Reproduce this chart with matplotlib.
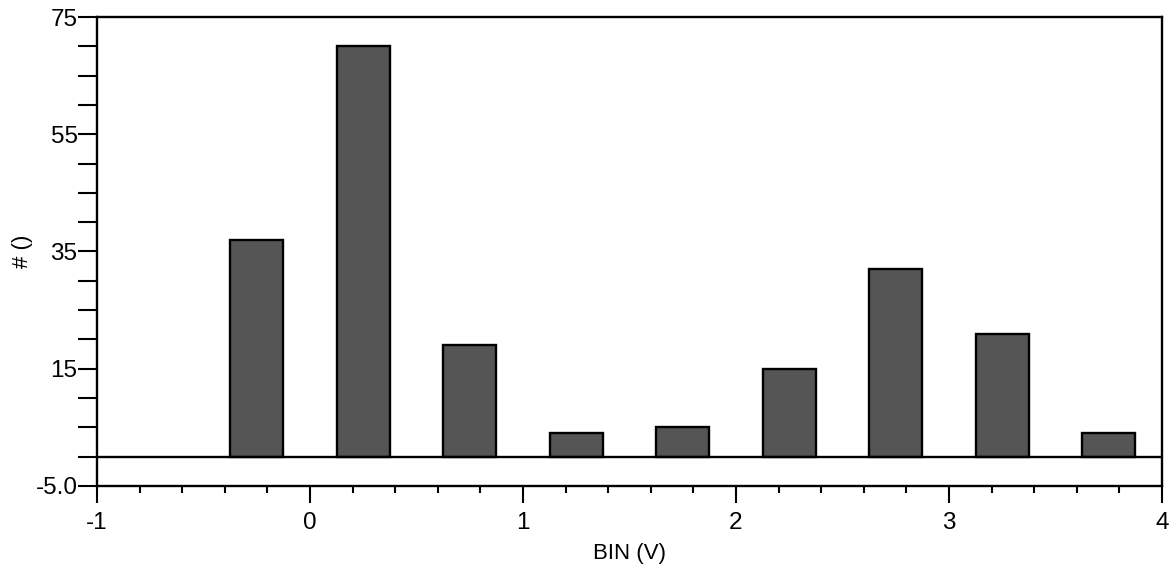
import matplotlib
matplotlib.use('Agg')
import matplotlib.pyplot as plt
from matplotlib.ticker import FixedLocator, FixedFormatter, MultipleLocator

plt.rcParams['font.family'] = ['Liberation Sans', 'DejaVu Sans']

# Histogramm-Daten (Bin-Mitte in V, Anzahl)
bin_mitten = [-0.25, 0.25, 0.75, 1.25, 1.75, 2.25, 2.75, 3.25, 3.75]
anzahl = [37, 70, 19, 4, 5, 15, 32, 21, 4]
bin_breite = 0.25

y_ticks = [-5, 15, 35, 55, 75]
y_labels = ['-5.0', '15', '35', '55', '75']
x_ticks = [-1, 0, 1, 2, 3, 4]
x_labels = ['-1', '0', '1', '2', '3', '4']

fig = plt.figure(figsize=(11.75, 5.74), dpi=100)
ax = fig.add_axes([97/1175, 1 - 486/574, (1162 - 97)/1175, (486 - 17)/574])

ax.bar(bin_mitten, anzahl, width=bin_breite, color='#555555',
       edgecolor='black', linewidth=1.7, zorder=2)
ax.axhline(0, color='black', linewidth=1.7, zorder=3)

ax.set_xlim(-1, 4)
ax.set_ylim(-5, 75)

ax.xaxis.set_major_locator(FixedLocator(x_ticks))
ax.xaxis.set_major_formatter(FixedFormatter(x_labels))
ax.xaxis.set_minor_locator(MultipleLocator(0.2))
ax.yaxis.set_major_locator(FixedLocator(y_ticks))
ax.yaxis.set_major_formatter(FixedFormatter(y_labels))
ax.yaxis.set_minor_locator(MultipleLocator(5))

for s in ax.spines.values():
    s.set_linewidth(1.7)

ax.tick_params(axis='x', which='major', direction='out', length=12, width=1.5,
               labelsize=17.5, pad=7)
ax.tick_params(axis='x', which='minor', direction='out', length=5, width=1.5)
ax.tick_params(axis='y', which='major', direction='out', length=14, width=1.5,
               labelsize=17.5, pad=0)
ax.tick_params(axis='y', which='minor', direction='out', length=14, width=1.5)

ax.set_xlabel('BIN (V)', fontsize=16, labelpad=6)
ax.set_ylabel('# ()', fontsize=16, labelpad=2)

fig.savefig('out.png', dpi=100)
